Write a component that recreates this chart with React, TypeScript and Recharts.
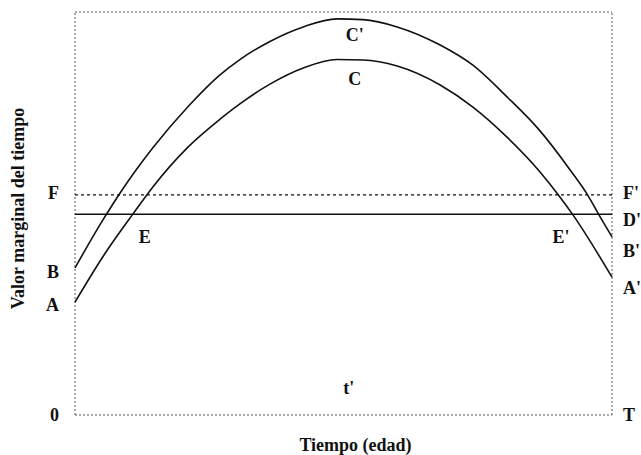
import { LineChart, Line, XAxis, YAxis, ReferenceLine, ReferenceDot, Label } from 'recharts';

// curve C' (upper) and C (lower): x = tiempo (0..100), y = valor (0..100)
const curvaCPrima = [
  { x: 0, y: 36.5 }, { x: 5.2, y: 48.4 }, { x: 8.4, y: 55.1 }, { x: 14.5, y: 66.3 },
  { x: 20.9, y: 76.3 }, { x: 27.0, y: 84.4 }, { x: 30.7, y: 88.2 }, { x: 36.3, y: 92.7 },
  { x: 42.5, y: 96.3 }, { x: 48.8, y: 98.3 }, { x: 53.6, y: 98.1 }, { x: 60.0, y: 96.3 },
  { x: 68.0, y: 91.8 }, { x: 74.1, y: 86.8 }, { x: 80.4, y: 79.0 }, { x: 86.6, y: 70.5 },
  { x: 92.2, y: 60.8 }, { x: 95.5, y: 54.5 }, { x: 97.6, y: 49.6 }, { x: 100, y: 44.2 },
];

const curvaC = [
  { x: 0, y: 28.0 }, { x: 5.4, y: 39.7 }, { x: 10.8, y: 49.9 }, { x: 14.5, y: 56.6 },
  { x: 20.9, y: 66.3 }, { x: 27.0, y: 73.4 }, { x: 30.7, y: 77.2 }, { x: 36.3, y: 82.1 },
  { x: 42.5, y: 86.1 }, { x: 48.8, y: 88.2 }, { x: 53.6, y: 88.1 }, { x: 60.0, y: 86.6 },
  { x: 68.0, y: 81.9 }, { x: 74.1, y: 76.4 }, { x: 80.4, y: 69.0 }, { x: 86.6, y: 60.3 },
  { x: 90.3, y: 54.1 }, { x: 92.6, y: 49.9 }, { x: 100, y: 34.2 },
];

const nivelF = 54.6;
const nivelD = 49.8;

const ticksIzq = [0, 27.3, 35.5, 49.6, 55.3];
const etiquetasIzq = ['0', 'A', 'B', 'D', 'F'];
const ticksDer = [0, 31.5, 40.9, 48.4, 55.1];
const etiquetasDer = ['T', "A'", "B'", "D'", "F'"];

const puntos = [
  { x: 52.1, y: 94.3, texto: "C'" },
  { x: 52.1, y: 83.4, texto: 'C' },
  { x: 13.0, y: 44.2, texto: 'E' },
  { x: 90.5, y: 44.2, texto: "E'" },
  { x: 51.0, y: 6.7, texto: "t'" },
];

const serif = 'Liberation Serif';
const tinta = '#111';
const letra = { fill: tinta, fontFamily: serif, fontSize: 18, fontWeight: 700 };

export default function App() {
  return (
    <div style={{ position: 'absolute', left: 0, top: 0, background: '#fff' }}>
      <LineChart width={641} height={455} margin={{ top: 12, right: 0, bottom: 0, left: 35 }}>
        <XAxis
          type="number"
          dataKey="x"
          domain={[0, 100]}
          height={40}
          tick={false}
          tickLine={false}
          axisLine={false}
          label={
            <Label
              content={({ viewBox }: any) => (
                <text
                  x={viewBox.x + viewBox.width / 2 + 12}
                  y={viewBox.y + 30}
                  textAnchor="middle"
                  dominantBaseline="central"
                  {...letra}
                >
                  Tiempo (edad)
                </text>
              )}
            />
          }
        />
        <YAxis
          type="number"
          domain={[0, 100]}
          width={40}
          ticks={ticksIzq}
          tickFormatter={(v) => etiquetasIzq[ticksIzq.indexOf(v)]}
          tickLine={false}
          axisLine={false}
          tickSize={0}
          tickMargin={16}
          tick={letra}
          label={
            <Label
              content={({ viewBox }: any) => {
                const cx = viewBox.x - 17;
                const cy = viewBox.y + viewBox.height / 2 - 5;
                return (
                  <text
                    x={cx}
                    y={cy}
                    transform={`rotate(-90 ${cx} ${cy})`}
                    textAnchor="middle"
                    dominantBaseline="central"
                    {...letra}
                  >
                    Valor marginal del tiempo
                  </text>
                );
              }}
            />
          }
        />
        <YAxis
          yAxisId="der"
          orientation="right"
          type="number"
          domain={[0, 100]}
          width={29}
          ticks={ticksDer}
          tickFormatter={(v) => etiquetasDer[ticksDer.indexOf(v)]}
          tickLine={false}
          axisLine={false}
          tickSize={0}
          tickMargin={11}
          tick={letra}
        />

        {/* marco punteado */}
        <ReferenceLine x={0} stroke="#555" strokeDasharray="2 2" />
        <ReferenceLine x={100} stroke="#555" strokeDasharray="2 2" />
        <ReferenceLine y={100} stroke="#555" strokeDasharray="2 2" />
        <ReferenceLine y={0} stroke="#555" strokeDasharray="2 2" />

        <ReferenceLine y={nivelF} stroke={tinta} strokeWidth={1.3} strokeDasharray="3 3" />
        <ReferenceLine y={nivelD} stroke={tinta} strokeWidth={1.6} />

        <Line
          yAxisId="der"
          data={curvaCPrima}
          dataKey="y"
          type="monotone"
          stroke={tinta}
          strokeWidth={1.6}
          dot={false}
          isAnimationActive={false}
        />
        <Line
          data={curvaC}
          dataKey="y"
          type="monotone"
          stroke={tinta}
          strokeWidth={1.6}
          dot={false}
          isAnimationActive={false}
        />

        {puntos.map((p) => (
          <ReferenceDot
            key={p.texto}
            x={p.x}
            y={p.y}
            r={0}
            stroke="none"
            label={{ value: p.texto, position: 'center', ...letra }}
          />
        ))}
      </LineChart>
    </div>
  );
}
